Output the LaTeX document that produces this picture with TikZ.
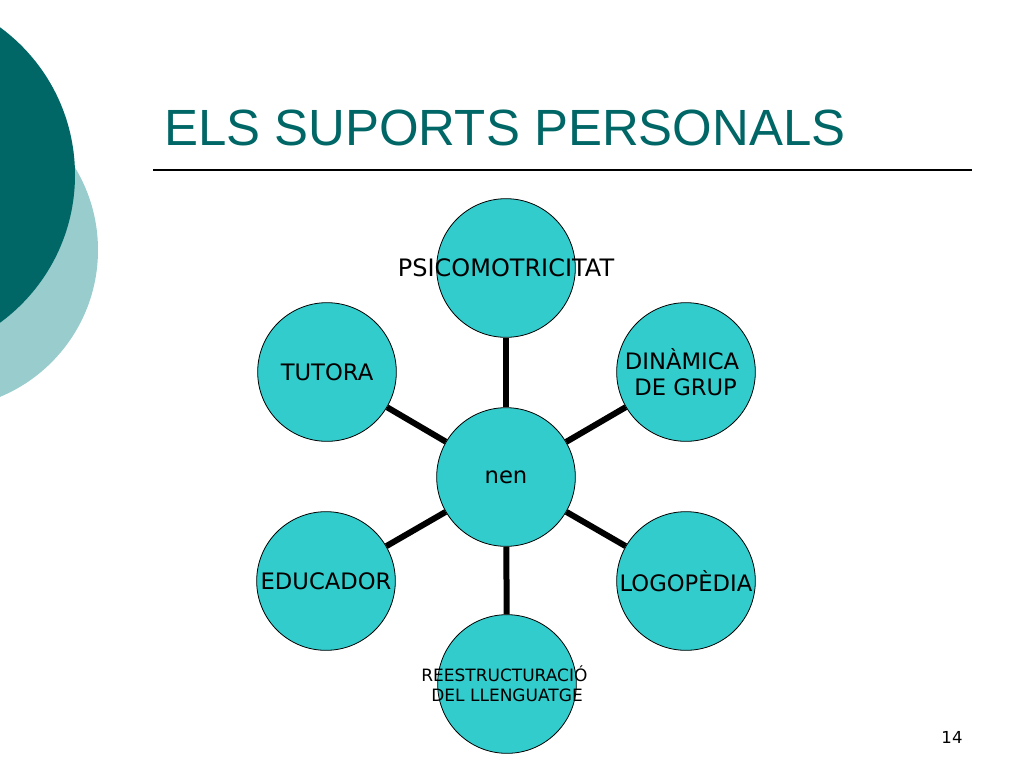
\documentclass[tikz,border=0pt]{standalone}
\usepackage{fontspec}
\setmainfont{DejaVu Sans}
\newfontfamily\titlefont{Liberation Sans}
\usepackage{tikz}
\usetikzlibrary{shapes.geometric}
\definecolor{darkteal}{RGB}{0,102,102}
\definecolor{paleteal}{RGB}{153,204,204}
\definecolor{bubblefill}{RGB}{51,204,204}

\begin{document}
\begin{tikzpicture}[x=0.75pt, y=-0.75pt,
            bubble/.style = {circle, draw, line width=0.6pt, fill=bubblefill, minimum size=104pt, inner sep=0pt},
            word/.style = {font=\fontsize{17}{20}\selectfont, align=center, inner sep=0pt},
            spoke/.style = {line width=4.5pt}
            ]
            \useasboundingbox (0,0) rectangle (1024,768);
            % slide decoration
            \begin{scope}
                \clip (0,0) rectangle (1024,768);
                \fill[paleteal] (-61,250) circle [radius=159];
                \fill[darkteal] (-108,175) circle [radius=183];
            \end{scope}
            \node[font=\titlefont\fontsize{38.2}{40}\selectfont, text=darkteal, anchor=base west, inner sep=0pt] (title) at (164,145) {ELS SUPORTS PERSONALS};
            \draw[line width=1.1pt] (153,170) -- (972,170);
            % the wheel
            \node[bubble, label={[word, font=\fontsize{18}{20}\selectfont]center:PSICOMOTRICITAT}] (psico) at (506,268) {};
            \node[bubble, label={[word, xshift=-3pt]center:DINÀMICA\\\hspace*{.32em}DE GRUP}] (dinamica) at (686,372) {};
            \node[bubble, label={[word]center:LOGOPÈDIA}] (logo) at (686,581) {};
            \node[bubble, label={[word, font=\fontsize{12.75}{15}\selectfont, xshift=-2pt]center:REESTRUCTURACIÓ\\\hspace*{.32em}DEL LLENGUATGE}] (llenguatge) at (507,684) {};
            \node[bubble, label={[word]center:EDUCADOR}] (educador) at (326,581) {};
            \node[bubble, label={[word]center:TUTORA}] (tutora) at (327,372) {};
            \node[bubble, label={[word]center:nen}] (nen) at (506,477) {};
            \foreach \leaf in {psico,dinamica,logo,llenguatge,educador,tutora}
                \draw[spoke] (nen) -- (\leaf);
            \node[font=\fontsize{12.4}{14}\selectfont, anchor=base, inner sep=0pt] (pagenum) at (952,743) {14};
\end{tikzpicture}
\end{document}
